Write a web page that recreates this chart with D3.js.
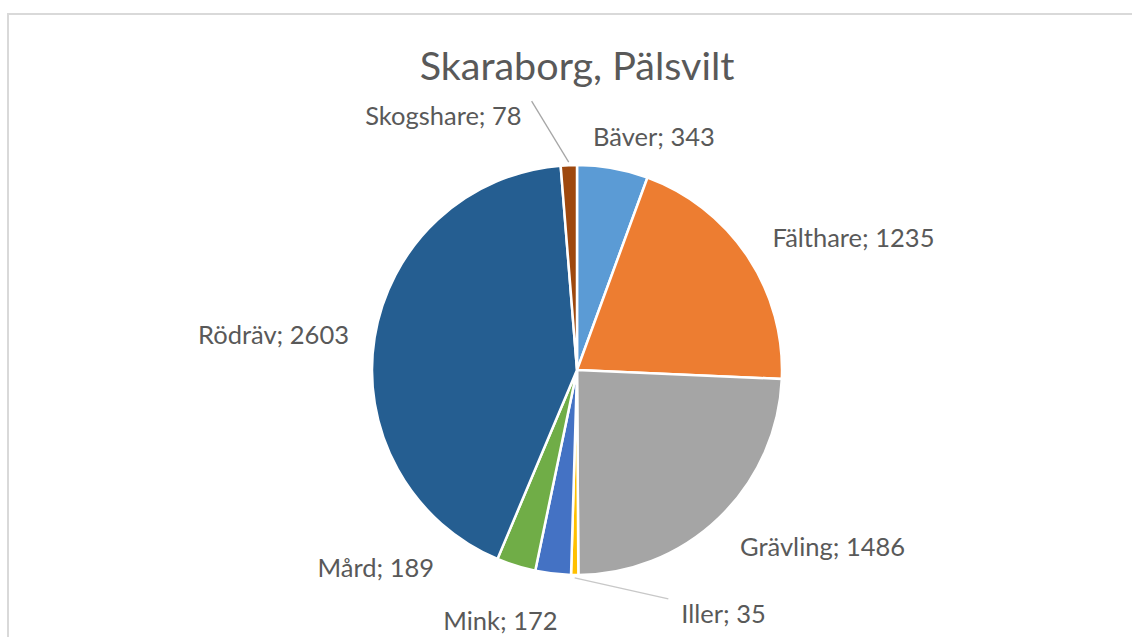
<!DOCTYPE html>
<html>
<head>
<meta charset="utf-8">
<script src="https://cdn.jsdelivr.net/npm/d3@7"></script>
<style>
  body { margin: 0; background: #fff; }
  text { font-family: Lato, "Open Sans", sans-serif; fill: #595959; }
</style>
</head>
<body>
<div id="chart"></div>
<script>
const categories = ["Bäver", "Fälthare", "Grävling", "Iller", "Mink", "Mård", "Rödräv", "Skogshare"];
const values = [343, 1235, 1486, 35, 172, 189, 2603, 78];
const colors = ["#5B9BD5", "#ED7D31", "#A5A5A5", "#FFC000", "#4472C4", "#70AD47", "#255E91", "#9E480E"];
const title = "Skaraborg, Pälsvilt";

// label nudges (Excel labels were moved by hand), relative to the outside point
const labelNudge = [[-25, -2], [0, -2], [0, 8], [107, 9], [8, 18], [-73, -26], [4, 2], [-46, -19]];
const leaders = ["Iller", "Skogshare"];

const width = 1132, height = 637;
const cx = 577, cy = 370, radius = 205;

const svg = d3.select("#chart")
  .append("svg")
  .attr("width", width)
  .attr("height", height);

// chart area border
svg.append("rect")
  .attr("x", 8)
  .attr("y", 14)
  .attr("width", width + 20)
  .attr("height", height + 20)
  .attr("fill", "#fff")
  .attr("stroke", "#d9d9d9")
  .attr("stroke-width", 2);

svg.append("text")
  .attr("x", cx)
  .attr("y", 80)
  .attr("text-anchor", "middle")
  .style("font-size", "39.5px")
  .text(title);

const data = categories.map((c, i) => ({ name: c, value: values[i], color: colors[i], nudge: labelNudge[i] }));

const pie = d3.pie().sort(null).value(d => d.value);
const arc = d3.arc().innerRadius(0).outerRadius(radius);

const g = svg.append("g")
  .attr("transform", `translate(${cx},${cy})`);

const arcs = pie(data);

g.selectAll("path")
  .data(arcs)
  .enter()
  .append("path")
  .attr("d", arc)
  .attr("fill", d => d.data.color)
  .attr("stroke", "#fff")
  .attr("stroke-width", 2.5);

// Labels
const R = radius + 30;
arcs.forEach(d => {
  const a = (d.startAngle + d.endAngle) / 2;
  const x = Math.sin(a) * R + d.data.nudge[0];
  const y = -Math.cos(a) * R + d.data.nudge[1];
  const anchor = x > 0 ? "start" : "end";

  if (leaders.includes(d.data.name)) {
    const r0 = radius + 3;
    g.append("line")
      .attr("x1", Math.sin(a) * r0)
      .attr("y1", -Math.cos(a) * r0)
      .attr("x2", x + (anchor === "end" ? 10 : -13))
      .attr("y2", y - 15)
      .attr("stroke", d.data.name === "Iller" ? "#c8c8c8" : "#a6a6a6")
      .attr("stroke-width", 1.3);
  }

  g.append("text")
    .attr("x", x)
    .attr("y", y)
    .attr("dy", "0.35em")
    .attr("text-anchor", anchor)
    .style("font-size", "25.5px")
    .text(`${d.data.name}; ${d.data.value}`);
});
</script>
</body>
</html>
